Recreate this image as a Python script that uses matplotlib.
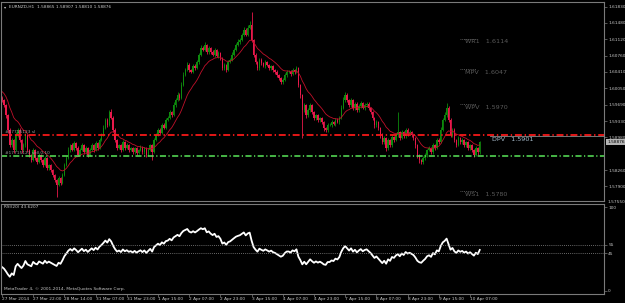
import matplotlib
matplotlib.use("Agg")
import matplotlib.pyplot as plt
import numpy as np

# ---------------- data ----------------
chart_title = "EURNZD,H1  1.58865 1.58907 1.58810 1.58876"
rsi_title = "RSI(20) 43.6207"
copyright_text = "MetaTrader 4, \u00a9 2001-2014, MetaQuotes Software Corp."

first_open = 1.5984
closes = [
    1.5979, 1.5968, 1.5946, 1.5914, 1.5881, 1.5892, 1.5870, 1.5903, 1.5914, 1.5892,
    1.5870, 1.5881, 1.5903, 1.5870, 1.5859, 1.5848, 1.5870, 1.5852, 1.5844, 1.5859,
    1.5848, 1.5837, 1.5852, 1.5830, 1.5837, 1.5826, 1.5815, 1.5804, 1.5793, 1.5808,
    1.5798, 1.5815, 1.5837, 1.5852, 1.5870, 1.5881, 1.5870, 1.5885, 1.5874, 1.5859,
    1.5870, 1.5881, 1.5865, 1.5874, 1.5859, 1.5870, 1.5881, 1.5870, 1.5885, 1.5874,
    1.5892, 1.5903, 1.5918, 1.5936, 1.5925, 1.5953, 1.5940, 1.5914, 1.5892, 1.5874,
    1.5881, 1.5870, 1.5887, 1.5874, 1.5881, 1.5870, 1.5874, 1.5865, 1.5874, 1.5863,
    1.5870, 1.5876, 1.5865, 1.5874, 1.5859, 1.5870, 1.5881, 1.5865, 1.5892, 1.5903,
    1.5914, 1.5907, 1.5925, 1.5918, 1.5936, 1.5940, 1.5953, 1.5946, 1.5968, 1.5979,
    1.5990, 1.5984, 1.6012, 1.6034, 1.6045, 1.6056, 1.6045, 1.6041, 1.6054, 1.6049,
    1.6062, 1.6078, 1.6093, 1.6089, 1.6100, 1.6084, 1.6093, 1.6084, 1.6078, 1.6089,
    1.6076, 1.6082, 1.6071, 1.6049, 1.6056, 1.6045, 1.6062, 1.6067, 1.6078, 1.6089,
    1.6100, 1.6106, 1.6111, 1.6122, 1.6133, 1.6122, 1.6137, 1.6144, 1.6111, 1.6078,
    1.6062, 1.6049, 1.6067, 1.6060, 1.6054, 1.6062, 1.6056, 1.6049, 1.6054, 1.6045,
    1.6041, 1.6034, 1.6027, 1.6019, 1.6023, 1.6034, 1.6041, 1.6041, 1.6036, 1.6045,
    1.6041, 1.6049, 1.6012, 1.5990, 1.5957, 1.5968, 1.5946, 1.5957, 1.5968, 1.5953,
    1.5940, 1.5946, 1.5936, 1.5940, 1.5931, 1.5918, 1.5914, 1.5925, 1.5925, 1.5931,
    1.5927, 1.5936, 1.5931, 1.5940, 1.5962, 1.5979, 1.5990, 1.5979, 1.5968, 1.5979,
    1.5962, 1.5971, 1.5957, 1.5966, 1.5973, 1.5962, 1.5968, 1.5971, 1.5962, 1.5953,
    1.5940, 1.5925, 1.5931, 1.5918, 1.5903, 1.5887, 1.5896, 1.5874, 1.5892, 1.5881,
    1.5898, 1.5892, 1.5903, 1.5909, 1.5896, 1.5909, 1.5900, 1.5914, 1.5905, 1.5909,
    1.5903, 1.5896, 1.5881, 1.5859, 1.5848, 1.5844, 1.5852, 1.5859, 1.5870, 1.5874,
    1.5865, 1.5881, 1.5874, 1.5892, 1.5887, 1.5914, 1.5936, 1.5946, 1.5962, 1.5936,
    1.5903, 1.5914, 1.5892, 1.5881, 1.5896, 1.5887, 1.5892, 1.5881, 1.5887, 1.5874,
    1.5881, 1.5870, 1.5859, 1.5874, 1.5865, 1.58876,
]
upper_wick_pips = [
    4, 3, 2, 3, 4, 5, 3, 6, 4, 3, 2, 5, 4, 2, 3, 2, 4, 3, 2, 5,
    3, 2, 4, 2, 3, 2, 3, 2, 3, 5, 3, 4, 5, 4, 6, 3, 4, 5, 3, 4,
    4, 5, 3, 4, 3, 4, 5, 3, 4, 3, 5, 4, 6, 5, 4, 5, 6, 4, 3, 2,
    3, 2, 4, 3, 4, 2, 3, 2, 3, 2, 3, 4, 2, 3, 2, 4, 3, 3, 5, 4,
    4, 3, 5, 4, 5, 4, 5, 3, 6, 5, 6, 4, 7, 6, 5, 6, 4, 3, 5, 4,
    6, 5, 6, 4, 6, 3, 4, 3, 4, 5, 3, 4, 3, 2, 4, 3, 5, 4, 6, 5,
    5, 6, 4, 5, 7, 4, 6, 8, 28, 3, 4, 3, 5, 4, 3, 4, 3, 2, 3, 2,
    2, 3, 2, 3, 4, 5, 3, 4, 3, 4, 3, 5, 2, 2, 3, 5, 3, 4, 5, 3,
    2, 3, 2, 3, 2, 2, 3, 4, 3, 4, 3, 4, 3, 5, 6, 7, 6, 4, 3, 5,
    3, 4, 3, 4, 5, 3, 4, 3, 4, 2, 2, 3, 4, 3, 2, 3, 4, 2, 4, 3,
    4, 3, 5, 44, 3, 4, 3, 5, 3, 4, 3, 2, 2, 2, 2, 3, 4, 4, 3, 4,
    3, 4, 3, 5, 4, 6, 5, 7, 11, 4, 3, 4, 3, 2, 4, 3, 4, 2, 3, 2,
    3, 2, 3, 4, 3, 3,
]
lower_wick_pips = [
    3, 4, 5, 6, 4, 5, 6, 3, 4, 5, 6, 3, 4, 5, 4, 5, 3, 4, 5, 3,
    4, 5, 3, 5, 4, 5, 4, 5, 26, 3, 4, 3, 2, 3, 2, 4, 3, 2, 4, 3,
    3, 2, 4, 3, 4, 3, 2, 4, 3, 4, 2, 3, 2, 3, 4, 2, 3, 4, 5, 4,
    3, 4, 3, 4, 3, 4, 3, 4, 3, 4, 3, 2, 4, 3, 4, 3, 2, 17, 2, 3,
    2, 3, 2, 3, 2, 3, 2, 3, 2, 3, 2, 4, 2, 3, 2, 3, 4, 3, 2, 3,
    2, 3, 2, 3, 2, 4, 3, 4, 3, 4, 3, 4, 3, 5, 4, 5, 3, 2, 3, 2,
    3, 2, 3, 2, 3, 2, 3, 2, 4, 5, 4, 5, 3, 4, 3, 4, 3, 4, 3, 4,
    4, 5, 4, 5, 4, 3, 4, 3, 4, 3, 4, 3, 5, 6, 61, 5, 6, 4, 5, 4,
    5, 4, 5, 4, 5, 6, 5, 4, 3, 4, 3, 4, 3, 4, 3, 2, 3, 4, 5, 4,
    4, 5, 4, 5, 4, 3, 4, 3, 4, 5, 5, 6, 4, 5, 6, 5, 4, 6, 4, 5,
    4, 5, 3, 4, 5, 3, 4, 3, 4, 3, 4, 5, 6, 7, 6, 5, 4, 3, 4, 3,
    4, 3, 4, 3, 3, 2, 3, 2, 3, 5, 5, 4, 5, 4, 3, 4, 3, 4, 5, 4,
    5, 4, 5, 3, 6, 3,
]

time_label_bars = [0, 16, 32, 48, 64, 80, 96, 112, 128, 144, 160, 176, 192, 208, 224, 240]
time_labels = ["27 Mar 2014", "27 Mar 22:00", "28 Mar 14:00", "31 Mar 07:00",
               "31 Mar 23:00", "1 Apr 15:00", "2 Apr 07:00", "2 Apr 23:00",
               "3 Apr 15:00", "4 Apr 07:00", "4 Apr 23:00", "7 Apr 15:00",
               "8 Apr 07:00", "8 Apr 23:00", "9 Apr 15:00", "10 Apr 07:00"]

price_ticks = [1.6183, 1.6148, 1.6112, 1.6076, 1.6041, 1.6005, 1.5969,
               1.5933, 1.5898, 1.5826, 1.5790]
price_tick_labels = ["1.61830", "1.61480", "1.61120", "1.60760", "1.60410",
                     "1.60050", "1.59690", "1.59330", "1.58980", "1.58260", "1.57900"]
current_price = 1.58876
current_price_label = "1.58876"

pivot_names = ["WR1", "MPV", "WPV", "DPV", "WS1"]
pivot_values = [1.6114, 1.6047, 1.5970, 1.5901, 1.5780]
red_line_level = 1.5903
green_line_level = 1.5857
red_line_label = "#17715123 sl"
green_line_label = "#17715123 sell 0.10"

ma_period = 13
ma_seed = 1.6001
rsi_period = 20
rsi_seed_gain = 0.00025
rsi_seed_loss = 0.00060
rsi_levels = [55, 45]
rsi_axis_ticks = [100, 55, 45, 0]

# ---------------- derived ----------------
c = np.array(closes)
o = np.concatenate([[first_open], c[:-1]])
hi = np.maximum(o, c) + np.array(upper_wick_pips) * 0.0001
lo = np.minimum(o, c) - np.array(lower_wick_pips) * 0.0001
x = np.arange(len(c))

alpha = 2.0 / (ma_period + 1)
ma = []
m = ma_seed
for v in c:
    m = m + alpha * (v - m)
    ma.append(m)

deltas = c - o
ag, al = rsi_seed_gain, rsi_seed_loss
rsi = []
for d in deltas:
    ag = (ag * (rsi_period - 1) + max(d, 0)) / rsi_period
    al = (al * (rsi_period - 1) + max(-d, 0)) / rsi_period
    rsi.append(100 - 100 / (1 + ag / al))

# ---------------- figure ----------------
W, H = 625, 303
fig = plt.figure(figsize=(W / 100, H / 100), dpi=100, facecolor="black")
frame = "#7a7a7a"
txt = "#c8c8c8"
fs = 3.1

px_per_bar = 1.95
x0_px = 2.0
xlim = ((1 - x0_px) / px_per_bar, (604 - x0_px) / px_per_bar)

ax = fig.add_axes([1 / W, (H - 201) / H, 603 / W, 199 / H], facecolor="black")
rax = fig.add_axes([1 / W, (H - 294) / H, 603 / W, 90 / H], facecolor="black")

scale = 0.000219
ax.set_ylim(1.6183 - 194 * scale, 1.6183 + 5 * scale)
ax.set_xlim(*xlim)
rax.set_xlim(*xlim)
rax.set_ylim(-3.6, 103.6)

for a in (ax, rax):
    for s in a.spines.values():
        s.set_color(frame)
        s.set_linewidth(0.8)

up_col = "#0d8a0d"
dn_col = "#e8194b"
cols = [up_col if cc >= oo else dn_col for oo, cc in zip(o, c)]
ax.vlines(x, lo, hi, colors=cols, linewidth=0.6)
body = np.where(np.abs(c - o) < 0.00005, 0.00005, c - o)
ax.bar(x, body, bottom=o, width=0.75, color=cols, linewidth=0)
ax.plot(x, ma, color="#c0102a", linewidth=0.6)

ax.axhline(red_line_level, color="#ff1a1a", linewidth=1.25, linestyle=(0, (4, 1.6, 0.8, 1.6)))
ax.axhline(green_line_level, color="#5ae65a", linewidth=1.1, linestyle=(0, (4, 1.6, 0.8, 1.6)))
ax.text(xlim[0] + 2, red_line_level + 0.00015, red_line_label, color="#9a9a9a",
        fontsize=fs, va="bottom", ha="left")
ax.text(xlim[0] + 2, green_line_level + 0.00015, green_line_label, color="#9a9a9a",
        fontsize=fs, va="bottom", ha="left")

# pivot labels
def px2bar(p):
    return (p - x0_px) / px_per_bar

for name, val in zip(pivot_names, pivot_values):
    if name == "DPV":
        ax.plot([px2bar(490), xlim[1]], [val - 0.0001, val - 0.0001], color="#8a8a8a", linewidth=0.6)
        ax.text(px2bar(492), val - 0.0003, name + "   " + f"{val:.4f}", color="#a8bccc",
                fontsize=4.6, va="top", ha="left")
    else:
        ax.plot([px2bar(460), px2bar(476)], [val, val], color="#6a6a6a", linewidth=0.6,
                linestyle=(0, (1, 1.2)))
        ax.text(px2bar(465), val - 0.0002, name + "   " + f"{val:.4f}", color="#5a5a5a",
                fontsize=4.6, va="top", ha="left")

ax.yaxis.tick_right()
ax.set_yticks(price_ticks)
ax.set_yticklabels(price_tick_labels)
ax.tick_params(axis="y", colors=frame, labelcolor=txt, labelsize=fs, length=2, width=0.5, pad=1)
ax.set_xticks([])
ax.text(1.0 + 3 / 603, current_price, current_price_label, transform=ax.get_yaxis_transform(),
        fontsize=fs, color="black", va="center", ha="left",
        bbox=dict(boxstyle="square,pad=0.25", facecolor="#b4b4b4", edgecolor="none"), clip_on=False)
ax.text(1.0 + 3 / 603, 1.5755, "1.57550", transform=ax.get_yaxis_transform(),
        fontsize=fs, color=txt, va="center", ha="left", clip_on=False)

ax.text(px2bar(9), 1.6183, chart_title, color=txt, fontsize=fs, va="center", ha="left")
ax.text(px2bar(4), 1.6183, "\u25be", color=txt, fontsize=fs, va="center", ha="left")

# RSI
rax.plot(x, rsi, color="white", linewidth=1.3)
for lv in rsi_levels:
    rax.axhline(lv, color="#8a8a8a", linewidth=0.6, linestyle=(0, (1, 1.5)))
rax.yaxis.tick_right()
rax.set_yticks(rsi_axis_ticks)
rax.set_yticklabels([str(t) for t in rsi_axis_ticks])
rax.tick_params(axis="y", colors=frame, labelcolor=txt, labelsize=fs, length=2, width=0.5, pad=1)
rax.set_xticks(time_label_bars)
rax.set_xticklabels(time_labels, ha="left")
rax.tick_params(axis="x", colors=frame, labelcolor=txt, labelsize=fs, length=2, width=0.5, pad=0.5)
rax.text(px2bar(4), 100, rsi_title, color=txt, fontsize=fs, va="center", ha="left")
rax.text(px2bar(4), 2, copyright_text, color=txt, fontsize=fs, va="center", ha="left")

fig.savefig("out.png", dpi=100, facecolor="black")
